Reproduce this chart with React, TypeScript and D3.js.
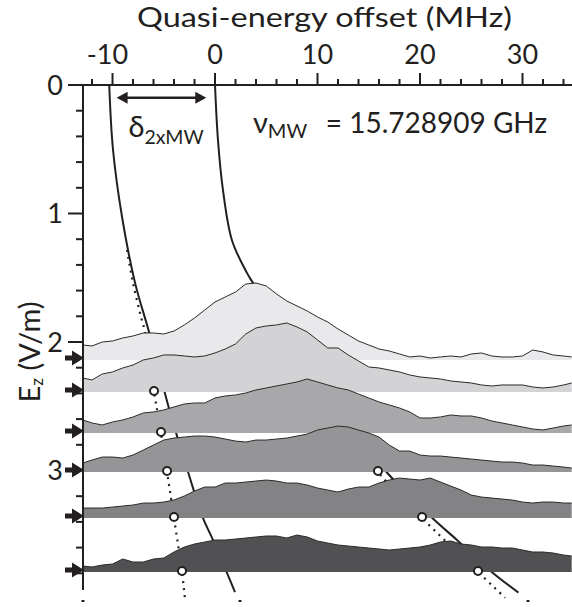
import React from 'react';
import * as d3 from 'd3';

// Frequency grid (MHz) shared by all spectra
const freqGrid = [-12.9, -12, -11, -10, -9, -8, -7, -6, -5, -4, -3, -2, -1, 0, 1, 2, 3, 4, 5, 6, 7, 8, 9, 10, 11, 12, 13, 14, 15, 16, 17, 18, 19, 20, 21, 22, 23, 24, 25, 26, 27, 28, 29, 30, 31, 32, 33, 34, 34.8];

// Spectra amplitudes (arbitrary units)
const spec1 = [15, 14, 18, 19, 22, 24, 27, 27, 26, 29, 35, 42, 50, 58, 63, 68, 76, 77, 74, 66, 59, 54, 49, 43, 38, 31, 25, 19, 15, 11, 9, 6, 3, 4, 2, 3, 4, 3, 6, 7, 4, 3, 3, 4, 10, 8, 5, 4, 3];
const spec2 = [14, 12, 18, 20, 24, 27, 32, 34, 37, 37, 36, 35, 36, 39, 43, 48, 58, 64, 66, 67, 69, 65, 60, 52, 44, 44, 37, 31, 25, 24, 22, 20, 17, 15, 14, 13, 11, 10, 9, 7, 6, 7, 7, 7, 5, 4, 5, 7, 9];
const spec3 = [13, 10, 8, 11, 13, 16, 20, 21, 23, 26, 29, 30, 30, 35, 37, 38, 40, 43, 45, 47, 49, 51, 54, 51, 48, 45, 43, 39, 35, 31, 28, 25, 21, 15, 15, 16, 18, 17, 17, 15, 12, 10, 8, 6, 4, 3, 5, 7, 8];
const spec4 = [9, 12, 15, 15, 14, 17, 22, 27, 32, 34, 35, 36, 36, 35, 33, 31, 30, 32, 32, 33, 34, 36, 38, 42, 44, 46, 45, 42, 39, 35, 27, 21, 21, 17, 16, 16, 15, 14, 13, 12, 11, 10, 10, 9, 7, 7, 6, 5, 4];
const spec5 = [10, 10, 10, 11, 12, 13, 15, 15, 16, 18, 22, 27, 31, 31, 35, 35, 36, 37, 38, 37, 35, 35, 33, 30, 28, 26, 29, 31, 31, 35, 38, 40, 39, 38, 40, 36, 32, 28, 23, 21, 20, 19, 18, 16, 15, 16, 16, 15, 15];
const spec6 = [6, 5, 7, 8, 13, 10, 10, 13, 14, 20, 25, 28, 30, 32, 32, 33, 34, 35, 36, 36, 34, 37, 35, 31, 29, 27, 26, 25, 24, 23, 22, 23, 24, 25, 27, 30, 31, 28, 27, 25, 25, 24, 24, 22, 20, 20, 19, 17, 16];
const spectra = [spec1, spec2, spec3, spec4, spec5, spec6];

// Field (V/m) of each spectrum baseline
const fieldValues = [2.14, 2.389, 2.708, 3.012, 3.37, 3.79];
const fillColors = ['#e9e9eb', '#d3d3d5', '#a8a8ab', '#959598', '#838386', '#515153'];

// Theory curves [freq MHz, Ez V/m]
const leftSolid = [[-10.32, 0], [-9.95, 0.506], [-9.07, 1.027], [-7.8, 1.54], [-6.44, 1.922], [-4.39, 2.545], [-2.63, 3.012], [-1.17, 3.37], [-0.2, 3.54], [1.95, 3.946]];
const rightSolid = [[0, 0], [0.29, 0.43], [0.78, 0.82], [1.66, 1.21], [3.1, 1.46], [3.7, 1.54], [7.6, 2.05], [12.2, 2.55], [16.6, 3.0], [21.2, 3.37], [23.6, 3.54], [27.0, 3.79], [29.6, 3.95]];
const leftDotted = [[-8.59, 1.284], [-8.0, 1.541], [-7.22, 1.805], [-6.83, 1.922], [-5.95, 2.389], [-5.27, 2.708], [-4.68, 3.012], [-4.0, 3.37], [-3.22, 3.79], [-2.93, 4.0]];
const rightDotted = [[11.6, 2.55], [15.9, 3.012], [20.2, 3.37], [25.66, 3.79], [28.3, 3.99]];

// Measured peak positions
const leftPeaks = [[-5.95, 2.389], [-5.27, 2.708], [-4.68, 3.012], [-4.0, 3.37], [-3.22, 3.79]];
const rightPeaks = [[15.9, 3.012], [20.2, 3.37], [25.66, 3.79]];

const xTicks = [-10, 0, 10, 20, 30];
const yTicks = [0, 1, 2, 3];

const FONT = 'Lato, "Open Sans", sans-serif';

export default function App() {
  const W = 572, H = 607;
  const x = d3.scaleLinear().domain([-12.88, 34.83]).range([83, 572]);
  const y = d3.scaleLinear().domain([0, 3.93]).range([85, 590]);
  const amp = d3.scaleLinear().domain([0, 100]).range([0, 100 / 128.5]);

  const theoryLine = d3.line<number[]>().x(d => x(d[0])).y(d => y(d[1])).curve(d3.curveCatmullRom);

  const xMinor = d3.range(-12, 35, 2).filter(v => v % 10 !== 0);
  const yMinor = d3.range(0, 3.81, 0.2).filter(v => Math.abs(v - Math.round(v)) > 0.01);

  const x0 = x.range()[0];
  const yTop = y(0);

  return (
    <svg width={W} height={H} style={{ position: 'absolute', left: 0, top: 0, background: '#fff' }} fontFamily={FONT}>
      {/* title */}
      <text x={137} y={27} fontSize={27} textLength={375} lengthAdjust="spacingAndGlyphs" fill="#231f20">Quasi-energy offset (MHz)</text>

      {/* theory lines (under spectra) */}
      <path d={theoryLine(leftSolid) || ''} fill="none" stroke="#231f20" strokeWidth={2} />
      <path d={theoryLine(rightSolid) || ''} fill="none" stroke="#231f20" strokeWidth={2} />
      <path d={theoryLine(leftDotted) || ''} fill="none" stroke="#231f20" strokeWidth={2.2} strokeDasharray="2 5" />
      <path d={theoryLine(rightDotted) || ''} fill="none" stroke="#231f20" strokeWidth={2.2} strokeDasharray="2 5" />

      {/* spectra */}
      {spectra.map((s, i) => {
        const base = fieldValues[i];
        const pts = s.map((v, j) => [freqGrid[j], v]);
        const area = d3.area<number[]>().x(d => x(d[0])).y0(y(base)).y1(d => y(base - amp(d[1])));
        const line = d3.line<number[]>().x(d => x(d[0])).y(d => y(base - amp(d[1])));
        return (
          <g key={i}>
            <path d={area(pts) || ''} fill={fillColors[i]} />
            <path d={line(pts) || ''} fill="none" stroke="#2b2b2b" strokeWidth={1} />
          </g>
        );
      })}

      {/* peak circles */}
      {[...leftPeaks, ...rightPeaks].map((p, i) => (
        <circle key={i} cx={x(p[0])} cy={y(p[1]) - 1} r={4} fill="#fff" stroke="#231f20" strokeWidth={2} />
      ))}

      {/* x axis (top) */}
      <line x1={68} x2={572} y1={yTop} y2={yTop} stroke="#231f20" strokeWidth={2} />
      {xTicks.map(t => (
        <g key={t}>
          <line x1={x(t)} x2={x(t)} y1={yTop} y2={yTop - 12} stroke="#231f20" strokeWidth={2} />
          <text x={x(t) - (t < 0 ? 5 : 0)} y={64} fontSize={27} textAnchor="middle" fill="#231f20">{t}</text>
        </g>
      ))}
      {xMinor.map(t => (
        <line key={t} x1={x(t)} x2={x(t)} y1={yTop} y2={yTop - 6} stroke="#231f20" strokeWidth={2} />
      ))}

      {/* y axis (left) */}
      <line x1={x0} x2={x0} y1={yTop - 1} y2={y(3.93)} stroke="#231f20" strokeWidth={2} />
      {yTicks.map(t => (
        <g key={t}>
          <line x1={x0 - 15} x2={x0} y1={y(t)} y2={y(t)} stroke="#231f20" strokeWidth={2} />
          <text x={63} y={y(t) + 10} fontSize={27} textAnchor="end" fill="#231f20">{t}</text>
        </g>
      ))}
      {yMinor.map(t => (
        <line key={t} x1={x0 - 7} x2={x0} y1={y(t)} y2={y(t)} stroke="#231f20" strokeWidth={2} />
      ))}

      {/* field arrows */}
      {fieldValues.map((f, i) => {
        const cy = y(f) - 2;
        return (
          <path key={i} d={`M65,${cy - 2.5}L72,${cy - 2.5}L72,${cy - 7.5}L84,${cy}L72,${cy + 7.5}L72,${cy + 2.5}L65,${cy + 2.5}Z`} fill="#231f20" />
        );
      })}

      {/* y label */}
      <text transform={`translate(40,352) rotate(-90)`} fontSize={29} textAnchor="middle" fill="#231f20">
        E<tspan fontSize={17} dy={3}>z</tspan><tspan dy={-3}> (V/m)</tspan>
      </text>

      {/* delta arrow */}
      {(() => {
        const ax1 = x(-9.6), ax2 = x(-0.85), ay = y(0.1);
        return (
          <g>
            <line x1={ax1 + 8} x2={ax2 - 8} y1={ay} y2={ay} stroke="#231f20" strokeWidth={2.5} />
            <path d={`M${ax1},${ay}L${ax1 + 11},${ay - 6}L${ax1 + 11},${ay + 6}Z`} fill="#231f20" />
            <path d={`M${ax2},${ay}L${ax2 - 11},${ay - 6}L${ax2 - 11},${ay + 6}Z`} fill="#231f20" />
          </g>
        );
      })()}
      <text x={x(-8.45)} y={y(0.405)} fontSize={29} fill="#231f20">
        δ<tspan fontSize={19.5} dy={7}>2xMW</tspan>
      </text>

      <text x={x(3.7)} y={y(0.375)} fontSize={29} fill="#231f20">
        ν<tspan fontSize={20} dy={5}>MW</tspan>
      </text>
      <text x={x(32.4)} y={y(0.375)} fontSize={28} textAnchor="end" fill="#231f20">= 15.728909 GHz</text>

      {/* bottom cropped marks */}
      {[83, 240, 528].map((px, i) => (
        <rect key={i} x={px - 1.5} y={600} width={3} height={2} fill="#231f20" />
      ))}
    </svg>
  );
}
